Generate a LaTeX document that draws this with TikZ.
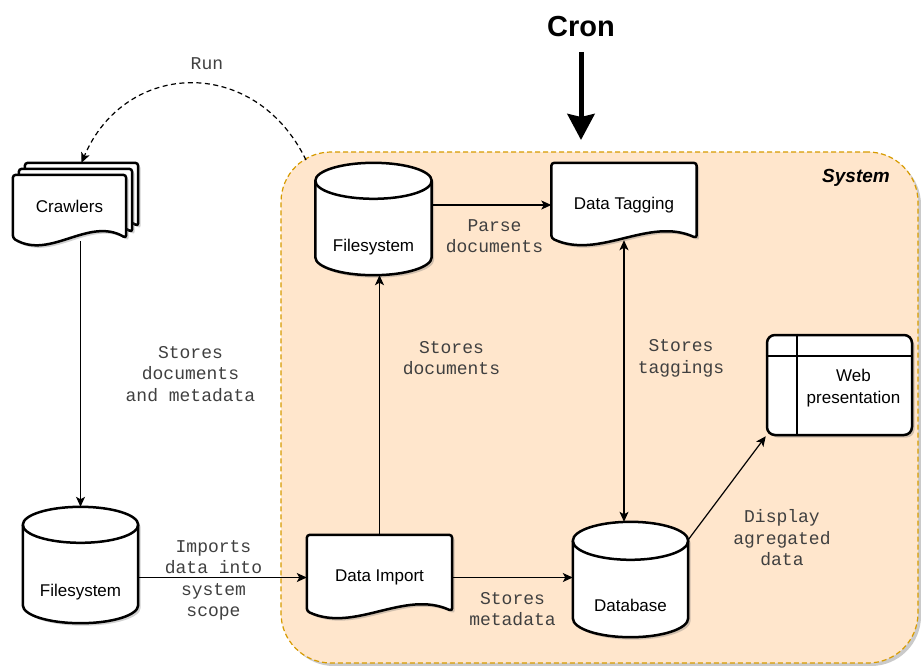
\documentclass[tikz,border=0pt]{standalone}
\usepackage{fontspec}
\setmainfont{Liberation Sans}
\newfontfamily\edgefont{Liberation Mono}
\usetikzlibrary{arrows.meta,calc,shadows}

\definecolor{sysfill}{HTML}{FFE6CC}
\definecolor{sysline}{HTML}{D79B00}

\pgfdeclarelayer{bg}
\pgfdeclarelayer{outline}
\pgfsetlayers{bg,outline,main}

\tikzset{
  shapeline/.style={draw=black,fill=white,line width=2.5pt,line join=round,
    drop shadow={shadow xshift=2.5pt,shadow yshift=-2.5pt,opacity=0.3,fill=black!60}},
  box/.style={inner sep=0pt,font=\fontsize{17}{22}\selectfont,align=center},
  cyltext/.style={font=\fontsize{17}{22}\selectfont},
  edgelab/.style={font=\edgefont\fontsize{18}{21.5}\selectfont,align=center,text=black!75},
  conn/.style={line width=1.2pt,->},
  runline/.style={line width=1.2pt,dash pattern=on 5pt off 3.5pt,->},
  sysbox/.style={draw=sysline,fill=sysfill,line width=1.2pt,dash pattern=on 5pt off 3pt,
    rounded corners=50pt,drop shadow={shadow xshift=3pt,shadow yshift=-3pt,opacity=0.35,fill=black!60}},
}

% sheet with a wavy lower edge, drawn round a placeholder node
\newcommand{\drawdoc}[1]{%
  \begin{pgfonlayer}{outline}
  \draw[shapeline,rounded corners=3pt] let \p1=($(#1.east)-(#1.west)$) in
    (#1.north west) -- (#1.north east) -- ($(#1.south east)+(0,9pt)$)
    .. controls ($(#1.south east)+(-0.33*\x1,31pt)$) and ($(#1.south west)+(0.33*\x1,-13pt)$) .. ($(#1.south west)+(0,9pt)$)
    -- cycle;
  \end{pgfonlayer}}

% storage drum round a placeholder node, #2 = rim radius
\newcommand{\drawcyl}[2]{%
  \begin{pgfonlayer}{outline}
  \draw[shapeline] let \p1=($(#1.east)-(#1.west)$) in
    ($(#1.north west)+(0,-#2)$) -- ($(#1.south west)+(0,#2)$)
    arc[start angle=180,end angle=360,x radius=0.5*\x1,y radius=#2]
    -- ($(#1.north east)+(0,-#2)$)
    arc[start angle=0,end angle=180,x radius=0.5*\x1,y radius=#2] -- cycle;
  \draw[line width=2.5pt] let \p1=($(#1.east)-(#1.west)$) in
    ($(#1.north west)+(0,-#2)$) arc[start angle=180,end angle=360,x radius=0.5*\x1,y radius=#2];
  \end{pgfonlayer}}

\begin{document}
\begin{tikzpicture}[x=1pt,y=-1pt,>={Stealth[length=10pt,width=9pt,inset=2.5pt]}]
\useasboundingbox (0,0) rectangle (921,665);

% system area
\begin{pgfonlayer}{bg}
\node[sysbox,minimum width=637pt,minimum height=511pt] (sys) at (599.5,407.5) {};
\end{pgfonlayer}
\node[font=\bfseries\itshape\fontsize{19}{23}\selectfont] (systitle) at (856,178) {System};

% cron trigger
\node[font=\bfseries\fontsize{29}{34}\selectfont] (cron) at (581,27) {Cron};
\coordinate (crontip) at (581,140);
\draw[line width=5pt,-{Stealth[length=26pt,width=27pt,inset=3pt]}] ([yshift=-11pt]cron.south) -- (crontip);

% crawlers, three stacked sheets
\node[box,minimum width=113pt,minimum height=72pt] (crb) at (81.5,199) {};
\node[box,minimum width=113pt,minimum height=72pt] (crm) at (75.5,205) {};
\node[box,minimum width=113pt,minimum height=72pt,label={[box,yshift=5pt]center:Crawlers}] (crf) at (69.5,211) {};
\drawdoc{crb}
\drawdoc{crm}
\drawdoc{crf}

% storages
\node[box,minimum width=115pt,minimum height=116pt,label={[cyltext,yshift=-27pt]center:Filesystem}] (fsa) at (80.5,565) {};
\drawcyl{fsa}{18pt}
\node[box,minimum width=116pt,minimum height=112pt,label={[cyltext,yshift=-28pt]center:Filesystem}] (fst) at (373.5,219) {};
\drawcyl{fst}{18pt}
\node[box,minimum width=115pt,minimum height=115pt,label={[cyltext,yshift=-26pt]center:Database}] (db) at (630.5,579.5) {};
\drawcyl{db}{19pt}

% processing steps
\node[box,minimum width=145pt,minimum height=84pt] (dtag) at (624,205) {Data Tagging};
\drawdoc{dtag}
\node[box,minimum width=145pt,minimum height=85pt] (dimp) at (379.5,577.5) {Data Import};
\drawdoc{dimp}

% web front end
\node[shapeline,box,rounded corners=8pt,minimum width=145pt,minimum height=100pt,
  label={[box,xshift=14pt,yshift=-3pt]center:{Web\\presentation}}] (web) at (839.5,385) {};
\draw[line width=2.5pt] ($(web.north west)+(31pt,0)$) -- ($(web.south west)+(31pt,0)$);
\draw[line width=2.5pt] ($(web.north west)+(0,-22pt)$) -- ($(web.north east)+(0,-22pt)$);

% connectors
\coordinate (runfrom) at (306,160);
\draw[runline] (runfrom) .. controls (255,55) and (125,60) .. node[edgelab,xshift=16pt,yshift=20pt] {Run} (crb.north);
\draw[conn] ($(crf.south -| fsa.north)+(0,6pt)$) -- node[edgelab,xshift=110pt] {Stores\\documents\\and metadata} (fsa.north);
\draw[conn] (fsa.east |- dimp.west) -- node[edgelab,xshift=-9pt,yshift=-3pt] {Imports\\data into\\system\\scope} (dimp.west);
\draw[conn] (dimp.north) -- node[edgelab,pos=0.68,xshift=72pt] {Stores\\documents} (dimp.north |- fst.south);
\draw[conn] (fst.east |- dtag.west) -- node[edgelab,xshift=3pt,yshift=-31pt] {Parse\\documents} (dtag.west);
\draw[conn,<->] ($(dtag.south)+(0,7pt)$) -- node[edgelab,pos=0.42,xshift=57pt] {Stores\\taggings} (dtag.south |- db.north);
\draw[conn] (dimp.east) -- node[edgelab,yshift=-31.5pt] {Stores\\metadata} (dimp.east -| db.west);
\draw[conn] ($(db.north east)+(0,-18pt)$) -- node[edgelab,xshift=55pt,yshift=-50pt] {Display\\agregated\\data} (web.south west);
\end{tikzpicture}
\end{document}
